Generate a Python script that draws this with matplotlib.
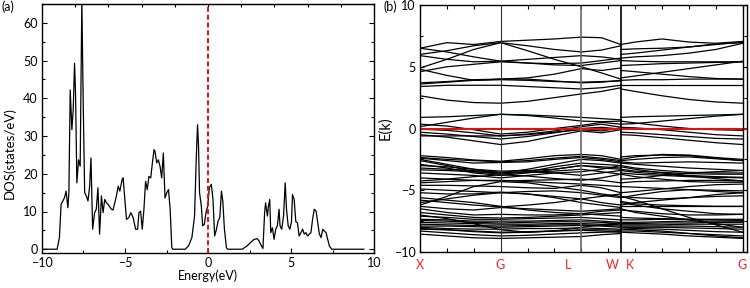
import matplotlib
matplotlib.use("Agg")
import matplotlib.pyplot as plt
from matplotlib.ticker import MultipleLocator, NullFormatter

plt.rcParams['font.family'] = ['Lato', 'DejaVu Sans']

# ---------------- DOS data (panel a) ----------------
dos_energy = [-10.0, -9.09, -8.95, -8.85, -8.65, -8.55, -8.44, -8.38, -8.30, -8.20, -8.12, -8.04,
              -7.98, -7.90, -7.80, -7.70, -7.60, -7.52, -7.43, -7.33, -7.23, -7.13, -7.05, -6.95,
              -6.83, -6.73, -6.63, -6.53, -6.42, -6.32, -6.22, -6.12, -6.02, -5.82, -5.72, -5.52,
              -5.41, -5.31, -5.17, -5.11, -5.01, -4.91, -4.77, -4.65, -4.51, -4.36, -4.24, -4.16,
              -4.06, -3.96, -3.86, -3.76, -3.66, -3.56, -3.45, -3.35, -3.25, -3.19, -3.09, -2.99,
              -2.89, -2.79, -2.69, -2.59, -2.48, -2.38, -2.28, -2.18, -2.12, -1.37, -1.17, -0.97,
              -0.81, -0.71, -0.63, -0.57, -0.51, -0.40, -0.32, -0.22, -0.12, -0.02, 0.08, 0.20,
              0.30, 0.40, 0.51, 0.61, 0.71, 0.81, 0.89, 0.99, 1.11, 1.19, 2.06, 2.36, 2.57, 2.77,
              2.97, 3.07, 3.17, 3.31, 3.41, 3.47, 3.58, 3.64, 3.72, 3.78, 3.88, 3.98, 4.08, 4.18,
              4.28, 4.34, 4.44, 4.55, 4.65, 4.73, 4.83, 4.93, 5.03, 5.09, 5.19, 5.29, 5.39, 5.49,
              5.60, 5.70, 5.80, 5.90, 6.00, 6.10, 6.20, 6.30, 6.40, 6.51, 6.61, 6.71, 6.81, 6.91,
              7.01, 7.11, 7.21, 7.31, 7.45, 9.39]
dos_values = [0, 0, 3.1, 11.9, 13.6, 15.4, 11.0, 15.0, 42.2, 31.7, 36.9, 49.3,
              41.3, 17.6, 23.7, 22.0, 66.0, 39.6, 15.0, 14.1, 12.8, 16.7, 24.2, 5.3,
              9.7, 10.6, 16.3, 4.0, 14.1, 9.7, 13.2, 12.3, 11.9, 10.6, 10.4, 14.1,
              16.7, 15.4, 18.5, 18.9, 13.2, 7.9, 8.4, 9.7, 8.4, 5.3, 5.3, 9.7,
              10.1, 5.3, 10.6, 18.0, 15.8, 19.3, 18.9, 22.9, 26.4, 25.9, 22.9, 23.7,
              22.0, 18.9, 25.5, 13.6, 15.0, 15.8, 10.6, 0.4, 0, 0, 0.9, 3.1,
              8.8, 23.7, 33.0, 27.3, 15.0, 11.4, 6.2, 6.6, 9.7, 11.4, 16.3, 17.2,
              13.2, 3.5, 5.3, 7.5, 8.4, 15.4, 12.8, 5.3, 0.4, 0, 0, 0.9, 1.8, 2.6,
              2.8, 2.2, 1.3, 0.2, 9.7, 12.3, 8.8, 11.4, 13.2, 4.4, 5.7, 2.6, 5.3, 6.2,
              10.6, 6.2, 5.3, 8.8, 17.6, 10.6, 6.2, 5.3, 7.3, 14.5, 13.2, 7.3, 7.0, 3.5,
              4.4, 5.3, 4.0, 4.4, 3.5, 4.0, 4.4, 7.9, 10.6, 10.1, 7.0, 4.0, 3.1, 5.3,
              4.8, 4.4, 2.6, 0.9, 0, 0]

# ---------------- Band structure data (panel b) ----------------
# path X-G-L-W (k positions) and K-G
k_xglw = [0, 1, 2, 3, 4, 5, 6, 6.75, 7.47]
k_kg = [7.47, 8, 9, 10, 11, 12]
k_ticks = [0, 3, 6, 7.47, 12]
k_labels = ['X', 'G', 'L', 'W', 'K', 'G']

bands_xglw = [
    # conduction
    [6.5, 6.95, 6.8, 7.05, 7.15, 7.25, 7.4, 7.35, 6.8],
    [6.0, 6.3, 6.7, 6.95, 6.7, 6.4, 6.2, 6.35, 6.7],
    [6.5, 6.2, 5.8, 5.45, 5.3, 5.15, 5.1, 5.3, 5.5],
    [4.9, 5.6, 6.4, 6.95, 6.3, 5.6, 5.0, 4.5, 4.0],
    [4.6, 5.0, 5.2, 5.4, 5.3, 5.25, 5.3, 5.5, 5.7],
    [5.9, 5.6, 5.4, 5.45, 5.6, 5.75, 5.9, 5.8, 5.6],
    [4.8, 4.3, 3.9, 4.0, 4.0, 3.85, 3.7, 3.75, 3.9],
    [3.7, 3.8, 3.95, 4.0, 4.1, 4.4, 4.85, 4.7, 4.9],
    [3.6, 3.75, 3.9, 3.95, 3.9, 3.8, 3.75, 3.8, 3.85],
    [3.4, 3.5, 3.5, 3.5, 3.4, 3.3, 3.2, 3.3, 3.5],
    [2.65, 2.3, 2.1, 2.05, 2.2, 2.5, 2.8, 3.0, 3.3],
    # near Fermi level
    [0.9, 0.95, 1.05, 1.15, 1.1, 1.0, 0.9, 0.8, 0.7],
    [0.15, 0.5, 0.85, 1.15, 1.05, 0.85, 0.6, 0.55, 0.6],
    [0.35, 0.2, -0.1, -0.45, -0.3, 0.0, 0.25, 0.5, 0.35],
    [-0.05, -0.15, -0.35, -0.6, -0.45, -0.2, 0.15, 0.35, 0.1],
    [-0.3, -0.45, -0.65, -0.85, -0.65, -0.35, 0.0, 0.1, -0.05],
    [-0.5, -0.7, -1.0, -1.3, -1.05, -0.6, -0.2, -0.35, -0.1],
    [-0.6, -0.6, -0.6, -0.6, -0.5, -0.3, -0.1, -0.2, 0.05],
    # valence -2 .. -5
    [-2.2, -2.35, -2.55, -2.65, -2.45, -2.2, -2.1, -2.2, -2.5],
    [-2.35, -2.5, -2.6, -2.7, -2.6, -2.4, -2.25, -2.4, -2.6],
    [-2.4, -2.6, -2.8, -2.75, -2.7, -2.5, -2.35, -2.5, -2.7],
    [-2.5, -2.9, -3.3, -3.6, -3.3, -2.9, -2.5, -2.6, -2.8],
    [-2.6, -3.0, -3.5, -3.7, -3.5, -3.1, -2.8, -2.9, -3.0],
    [-2.9, -3.2, -3.6, -3.8, -3.6, -3.3, -3.0, -3.1, -3.2],
    [-3.0, -3.1, -3.3, -3.45, -3.4, -3.3, -3.0, -3.2, -3.3],
    [-3.2, -3.3, -3.4, -3.55, -3.5, -3.6, -3.8, -3.6, -3.4],
    [-3.35, -3.4, -3.5, -3.6, -3.55, -3.45, -3.3, -3.5, -3.7],
    [-3.6, -3.7, -3.8, -4.0, -3.8, -3.6, -3.5, -3.3, -3.0],
    [-4.0, -4.1, -4.2, -4.25, -4.2, -4.15, -4.1, -4.2, -4.4],
    [-4.25, -4.1, -3.9, -3.75, -3.85, -4.05, -4.2, -4.0, -3.7],
    [-4.4, -4.3, -4.2, -4.2, -4.3, -4.4, -4.5, -4.6, -4.7],
    [-4.6, -4.6, -4.65, -4.7, -4.8, -4.85, -4.6, -4.8, -5.2],
    [-4.9, -5.0, -5.1, -5.2, -5.1, -5.05, -5.2, -5.4, -5.6],
    [-5.2, -5.3, -5.3, -5.15, -5.3, -5.6, -6.0, -6.2, -6.4],
    [-6.2, -5.5, -4.7, -4.3, -4.4, -4.7, -5.0, -5.3, -5.5],
    [-6.0, -5.7, -5.4, -5.2, -5.3, -5.5, -5.7, -6.0, -6.2],
    # valence -5 .. -9
    [-5.6, -5.8, -6.0, -6.3, -6.6, -6.8, -6.9, -7.0, -7.1],
    [-6.3, -6.5, -6.6, -6.4, -6.5, -6.6, -6.7, -6.6, -6.5],
    [-5.8, -6.0, -6.2, -6.35, -6.2, -6.0, -5.7, -5.5, -5.3],
    [-6.5, -6.8, -7.0, -6.95, -7.0, -7.0, -6.9, -6.7, -6.6],
    [-6.8, -7.0, -7.2, -7.25, -7.2, -7.1, -7.0, -6.9, -6.8],
    [-7.1, -7.2, -7.35, -7.35, -7.3, -7.25, -7.2, -7.3, -7.4],
    [-7.35, -7.4, -7.5, -7.5, -7.5, -7.45, -7.4, -7.5, -7.6],
    [-7.45, -7.5, -7.6, -7.65, -7.6, -7.55, -7.55, -7.6, -7.7],
    [-7.6, -7.65, -7.7, -7.75, -7.75, -7.7, -7.7, -7.75, -7.8],
    [-7.75, -7.8, -7.85, -7.9, -7.85, -7.8, -7.8, -7.85, -7.9],
    [-7.9, -7.9, -7.95, -8.0, -7.95, -7.9, -7.85, -7.9, -8.0],
    [-8.0, -8.1, -8.15, -8.15, -8.1, -8.1, -8.05, -8.1, -8.15],
    [-8.1, -8.2, -8.35, -8.45, -8.4, -8.3, -8.2, -8.2, -8.25],
    [-8.15, -8.2, -8.3, -8.4, -8.35, -8.3, -8.25, -8.3, -8.4],
    [-8.3, -8.45, -8.6, -8.7, -8.65, -8.55, -8.45, -8.4, -8.35],
    [-8.55, -8.7, -8.85, -8.9, -8.85, -8.8, -8.75, -8.6, -8.5],
    [-7.0, -7.3, -7.7, -8.2, -8.4, -8.3, -8.0, -7.8, -7.6],
]

bands_kg = [
    # conduction
    [6.8, 7.0, 7.25, 7.0, 6.9, 7.05],
    [6.4, 6.45, 6.5, 6.6, 6.8, 7.0],
    [6.0, 6.1, 6.35, 6.6, 6.85, 6.95],
    [5.7, 5.8, 5.9, 6.1, 6.4, 6.9],
    [5.5, 5.45, 5.4, 5.4, 5.4, 5.4],
    [5.1, 5.15, 5.25, 5.3, 5.35, 5.4],
    [4.7, 4.6, 4.4, 4.2, 4.05, 4.0],
    [4.1, 4.25, 4.55, 4.85, 5.15, 5.45],
    [3.9, 3.95, 3.95, 4.0, 4.0, 4.0],
    [3.5, 3.5, 3.5, 3.5, 3.5, 3.5],
    [3.2, 3.0, 2.65, 2.35, 2.15, 2.05],
    # near Fermi level
    [0.9, 0.95, 1.0, 1.05, 1.1, 1.15],
    [0.35, 0.4, 0.6, 0.8, 1.0, 1.15],
    [0.1, 0.05, -0.1, -0.3, -0.5, -0.6],
    [-0.3, -0.35, -0.5, -0.65, -0.8, -0.85],
    [-0.5, -0.55, -0.75, -0.95, -1.15, -1.3],
    [0.6, 0.45, 0.2, 0.0, -0.1, -0.15],
    # valence -2 .. -6
    [-2.3, -2.2, -2.15, -2.2, -2.4, -2.6],
    [-2.5, -2.3, -2.1, -2.15, -2.35, -2.5],
    [-2.6, -2.5, -2.35, -2.3, -2.45, -2.6],
    [-2.7, -2.8, -2.75, -2.7, -2.75, -2.8],
    [-2.8, -2.9, -3.05, -3.2, -3.3, -3.4],
    [-3.0, -3.2, -3.4, -3.55, -3.6, -3.6],
    [-3.1, -3.3, -3.6, -3.8, -3.9, -3.95],
    [-3.3, -3.45, -3.55, -3.65, -3.7, -3.7],
    [-3.4, -3.55, -3.7, -3.85, -4.05, -4.25],
    [-3.6, -3.7, -3.8, -3.9, -3.95, -4.0],
    [-3.7, -3.9, -4.1, -4.3, -4.35, -4.35],
    [-4.1, -4.05, -3.8, -3.6, -3.5, -3.4],
    [-4.4, -4.3, -4.25, -4.2, -4.2, -4.25],
    [-4.7, -4.75, -4.85, -4.95, -5.1, -5.2],
    [-5.2, -5.1, -4.9, -4.7, -4.55, -4.5],
    [-5.6, -5.4, -5.1, -4.95, -5.0, -5.05],
    [-5.5, -5.6, -5.7, -5.6, -5.35, -5.2],
    [-6.2, -6.0, -5.8, -5.6, -5.5, -5.45],
    # valence -5 .. -9
    [-5.5, -5.8, -6.5, -7.2, -7.8, -8.4],
    [-5.9, -6.1, -6.2, -6.25, -6.3, -6.3],
    [-6.3, -6.3, -6.3, -6.3, -6.3, -6.3],
    [-6.0, -6.2, -6.5, -6.7, -6.9, -6.95],
    [-6.6, -6.7, -6.9, -7.0, -7.0, -6.95],
    [-6.5, -6.8, -7.1, -7.4, -7.7, -8.0],
    [-7.2, -7.25, -7.3, -7.35, -7.4, -7.45],
    [-7.4, -7.4, -7.35, -7.35, -7.35, -7.35],
    [-7.6, -7.6, -7.55, -7.5, -7.5, -7.5],
    [-7.7, -7.7, -7.65, -7.65, -7.6, -7.6],
    [-7.8, -7.8, -7.8, -7.75, -7.75, -7.75],
    [-7.9, -7.9, -7.9, -7.9, -7.95, -8.0],
    [-8.0, -8.0, -8.0, -8.05, -8.1, -8.15],
    [-8.05, -8.1, -8.15, -8.25, -8.35, -8.4],
    [-8.15, -8.2, -8.3, -8.5, -8.7, -8.85],
    [-8.3, -8.3, -8.4, -8.5, -8.6, -8.7],
    [-8.4, -8.45, -8.55, -8.7, -8.8, -8.9],
]

fermi_level = 0.0

# ---------------- Figure ----------------
fig = plt.figure(figsize=(7.5, 2.88), dpi=100)
fs = 9

# Panel (a)
ax1 = fig.add_axes([42/750, 1-253/288, (374-42)/750, (253-4)/288])
ax1.plot(dos_energy, dos_values, color='black', lw=0.9)
ax1.axvline(fermi_level, color='#e01010', lw=1.4, ls=(0, (2.5, 1.5)))
ax1.set_xlim(-10, 10)
ax1.set_ylim(-1, 65)
ax1.xaxis.set_major_locator(MultipleLocator(5))
ax1.xaxis.set_minor_locator(MultipleLocator(2.5))
ax1.yaxis.set_major_locator(MultipleLocator(10))
ax1.yaxis.set_minor_locator(MultipleLocator(5))
ax1.tick_params(which='both', direction='in', top=False, right=True, labelsize=fs, pad=3)
ax1.tick_params(which='major', length=3.5, width=0.8)
ax1.tick_params(which='minor', length=2, width=0.8)
top1 = ax1.secondary_xaxis('top')
top1.set_xticks([-8, -6, -4, -2, 0, 2, 4, 6, 8])
top1.tick_params(direction='in', length=2.5, width=0.8)
top1.xaxis.set_major_formatter(NullFormatter())
ax1.set_xlabel('Energy(eV)', fontsize=fs, labelpad=0)
ax1.set_ylabel('DOS(states/eV)', fontsize=9.5)
ax1.yaxis.set_label_coords(-0.078, 0.40)
for s in ax1.spines.values():
    s.set_linewidth(1.0)
fig.text(2/750, 1-7/288, '(a)', fontsize=fs, va='center', ha='left')

# Panel (b)
ax2 = fig.add_axes([420/750, 1-252/288, (747-420)/750, (252-5)/288])
for b in bands_xglw:
    ax2.plot(k_xglw, b, color='black', lw=0.9)
for b in bands_kg:
    ax2.plot(k_kg, b, color='black', lw=0.9)
ax2.axhline(fermi_level, color='#e01010', lw=1.5)
ax2.axvline(k_ticks[1], color='#333333', lw=0.8)
ax2.axvline(k_ticks[2], color='#666666', lw=1.2)
ax2.axvline(k_ticks[3], color='black', lw=1.2)
ax2.axvline(k_ticks[4], color='black', lw=1.0)
ax2.set_xlim(0, 12.16)
ax2.set_ylim(-10, 10)
ax2.xaxis.set_major_locator(MultipleLocator(1))
ax2.xaxis.set_major_formatter(NullFormatter())
ax2.yaxis.set_major_locator(MultipleLocator(5))
ax2.yaxis.set_minor_locator(MultipleLocator(2.5))
ax2.tick_params(which='both', direction='in', top=True, right=True, labelsize=fs, pad=3)
ax2.tick_params(which='major', length=3, width=0.8)
ax2.tick_params(which='minor', length=2, width=0.8)
ax2.set_ylabel('E(k)', fontsize=10.5)
ax2.yaxis.set_label_coords(-0.085, 0.5)
for s in ax2.spines.values():
    s.set_linewidth(1.0)
fig.text(383/750, 1-7/288, '(b)', fontsize=fs, va='center', ha='left')

label_x_px = [420, 500, 568, 612, 630, 742]
for lx, lab in zip(label_x_px, k_labels):
    fig.text(lx/750, 1-265/288, lab, color='#ff2020', fontsize=fs, ha='center', va='center')

fig.savefig('out.png', dpi=100)
